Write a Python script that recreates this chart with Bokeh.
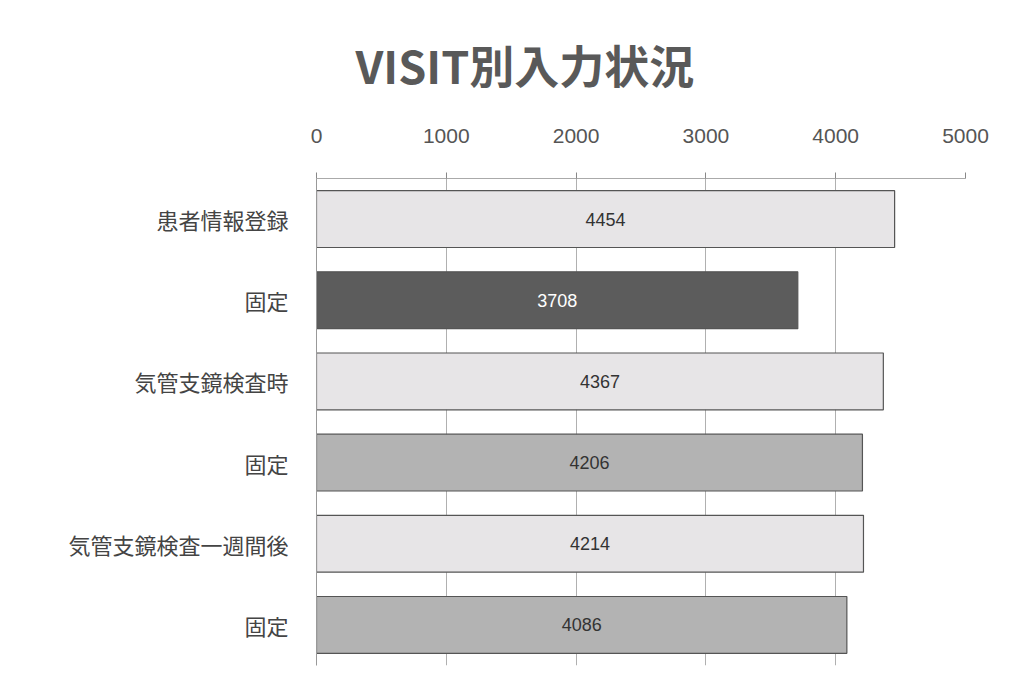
from bokeh.plotting import figure
from bokeh.models import ColumnDataSource, FixedTicker, LabelSet, Range1d, Title, CustomJSTickFormatter
from bokeh.core.properties import value
from bokeh.embed import file_html
from bokeh.resources import INLINE

title_text = "VISIT別入力状況"
categories = ["患者情報登録", "固定", "気管支鏡検査時", "固定", "気管支鏡検査一週間後", "固定"]
values = [4454, 3708, 4367, 4206, 4214, 4086]
bar_colors = ["#e7e5e7", "#5c5c5c", "#e7e5e7", "#b3b3b3", "#e7e5e7", "#b3b3b3"]
label_colors = ["#333333", "#ffffff", "#333333", "#333333", "#333333", "#333333"]
x_ticks = [0, 1000, 2000, 3000, 4000, 5000]

keys = ["c%d" % i for i in range(len(categories))]
W, H = 1000, 685
src = ColumnDataSource(dict(
    key=keys, val=values, color=bar_colors, lcolor=label_colors,
    mid=[v / 2 for v in values], txt=[str(v) for v in values],
))

p = figure(width=W, height=H, y_range=list(reversed(keys)),
           x_range=Range1d(0, 5000), x_axis_location="above",
           output_backend="svg", toolbar_location=None,
           min_border_left=316, min_border_right=W - 965, min_border_top=178,
           min_border_bottom=H - 665)
p.outline_line_color = None
p.background_fill_color = "white"
p.border_fill_color = "white"

p.hbar(y="key", right="val", left=0, height=0.7, source=src,
       fill_color="color", line_color="#555555", line_width=1.2)

labels = LabelSet(x="mid", y="key", text="txt", source=src, text_align="center",
                  text_baseline="middle", text_color="lcolor", text_font_size="18px",
                  text_font=value("Liberation Sans"))
p.add_layout(labels)

p.xaxis.ticker = FixedTicker(ticks=x_ticks)
p.xaxis.major_label_text_font = "Liberation Sans"
p.xaxis.major_label_text_font_size = "21px"
p.xaxis.major_label_text_color = "#555555"
p.xaxis.major_label_standoff = 30
p.xaxis.axis_line_color = "#aaaaaa"
p.xaxis.major_tick_line_color = "#888888"
p.xaxis.major_tick_out = 6
p.xaxis.major_tick_in = 0
p.xaxis.minor_tick_line_color = None

name_map = {k: c for k, c in zip(keys, categories)}
p.yaxis.formatter = CustomJSTickFormatter(args=dict(m=name_map), code="return m[tick];")
p.yaxis.major_label_text_font = "Noto Sans CJK JP"
p.yaxis.major_label_text_font_size = "22px"
p.yaxis.major_label_text_color = "#444444"
p.yaxis.major_label_standoff = 22
p.yaxis.axis_line_color = "#999999"
p.yaxis.major_tick_line_color = None
p.yaxis.minor_tick_line_color = None

p.xgrid.grid_line_color = "#b0b0b0"
p.xgrid.ticker = FixedTicker(ticks=x_ticks)
p.ygrid.grid_line_color = None

t = Title(text=title_text, align="left", offset=39, standoff=58,
          text_font="Noto Sans CJK JP", text_font_style="bold",
          text_font_size="45px", text_color="#595959")
p.add_layout(t, "above")

open("out.html", "w").write(file_html(p, INLINE))
